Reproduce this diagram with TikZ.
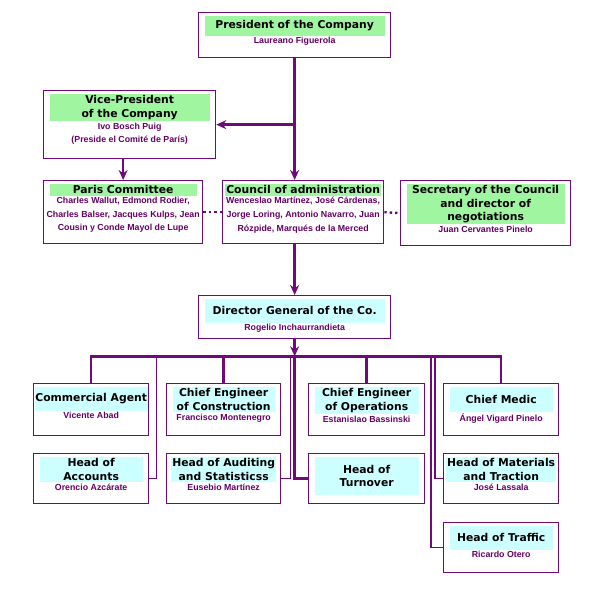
\documentclass[tikz,border=0pt]{standalone}
\usepackage{fontspec}
\usetikzlibrary{arrows.meta,positioning}
\newfontfamily\headfont{DejaVu Sans}
\newfontfamily\namefont{Liberation Sans}

\definecolor{orgline}{RGB}{112,10,120}
\definecolor{orgname}{RGB}{100,0,100}
\definecolor{greenband}{RGB}{160,245,160}
\definecolor{cyanband}{RGB}{204,255,255}

\tikzset{
	unitbox/.style={draw=orgline, line width=1.3pt, anchor=north west, inner sep=0pt},
	band/.style={anchor=north, align=center, inner xsep=0.8pt, inner ysep=1.8pt,
		font=\headfont\bfseries\fontsize{10.8}{13.3}\selectfont},
	who/.style={align=center, inner sep=1pt, text=orgname,
		font=\namefont\bfseries\fontsize{8.8}{13.6}\selectfont},
	link/.style={draw=orgline, line width=2.4pt},
	thinlink/.style={draw=orgline, line width=1.3pt},
	arrow/.style={link, -{Stealth[length=10pt,width=9pt]}}
}

% #1 name, #2 top left corner, #3 width, #4 height, #5 band style, #6 title, #7 names
\newcommand{\orgunit}[7]{%
	\node[unitbox, minimum width=#3, minimum height=#4] (#1) at (#2) {};
	\node[band, minimum width=#3-12, #5] (#1-title) at ([yshift=-3.5pt]#1.north) {#6};
	\node[who, below=0.3pt of #1-title] (#1-names) {#7};
}

\begin{document}
\begin{tikzpicture}[x=1pt, y=-1pt]
	\useasboundingbox (0,0) rectangle (600,595);

	% top of the company
	\orgunit{president}{198,12}{192}{45}{fill=greenband, minimum height=20}
		{President of the Company}{Laureano Figuerola}
	\orgunit{vp}{43,90}{172}{68}{fill=greenband}
		{Vice-President\\of the Company}{Ivo Bosch Puig\\(Preside el Comité de París)}
	\orgunit{paris}{43,180}{159}{63}{fill=greenband}
		{Paris Committee}{Charles Wallut, Edmond Rodier,\\Charles Balser, Jacques Kulps, Jean\\Cousin y Conde Mayol de Lupe}
	\orgunit{council}{222,180}{161}{63}{fill=greenband}
		{Council of administration}{Wenceslao Martínez, José Cárdenas,\\Jorge Loring, Antonio Navarro, Juan\\Rózpide, Marqués de la Merced}
	\orgunit{secretary}{400,180}{170}{65}{fill=greenband}
		{Secretary of the Council\\and director of\\negotiations}{Juan Cervantes Pinelo}
	\orgunit{director}{198,295}{192}{43}{fill=cyanband, minimum height=24}
		{Director General of the Co.}{Rogelio Inchaurrandieta}

	% departments
	\orgunit{agent}{33,383}{115}{52}{fill=cyanband, minimum height=24}
		{Commercial Agent}{Vicente Abad}
	\orgunit{construction}{166,383}{114}{52}{fill=cyanband}
		{Chief Engineer\\of Construction}{Francisco Montenegro}
	\orgunit{operations}{308,383}{116}{52}{fill=cyanband}
		{Chief Engineer\\of Operations}{Estanislao Bassinski}
	\orgunit{medic}{443,383}{115}{52}{fill=cyanband, minimum height=25}
		{Chief Medic}{Ángel Vigard Pinelo}
	\orgunit{accounts}{33,453}{115}{50}{fill=cyanband}
		{Head of\\Accounts}{Orencio Azcárate}
	\orgunit{auditing}{166,453}{114}{50}{fill=cyanband}
		{Head of Auditing\\and Statisticss}{Eusebio Martínez}
	\orgunit{turnover}{308,453}{116}{50}{fill=cyanband, minimum height=38}
		{Head of\\Turnover}{}
	\orgunit{materials}{443,453}{115}{50}{fill=cyanband}
		{Head of Materials\\and Traction}{José Lassala}
	\orgunit{traffic}{443,522}{115}{50}{fill=cyanband, minimum height=24}
		{Head of Traffic}{Ricardo Otero}

	% upper connectors
	\coordinate (vpjoin) at (president.south |- vp.east);
	\draw[arrow] (president.south) -- (president.south |- council.north);
	\draw[arrow] (vpjoin) -- (vp.east);
	\draw[arrow] (vp.south -| paris.north) -- (paris.north);
	\draw[link, dash pattern=on 2.4pt off 3pt] (paris.east) -- (council.west);
	\draw[link, dash pattern=on 2.4pt off 3pt] (council.east) -- (secretary.west);
	\draw[arrow] (president.south |- council.south) -- (director.north);

	% bus to the departments
	\coordinate (bus) at ([yshift=-17pt]director.south);
	\draw[arrow] (director.south) -- (bus);
	\draw[link] (agent.north) -- (agent.north |- bus) -- (medic.north |- bus) -- (medic.north);
	\foreach \u in {construction, operations}
		\draw[link] (\u.north) -- (\u.north |- bus);
	\draw[link] (bus) |- (turnover.west);
	\draw[thinlink] (accounts.east) -| ([xshift=7pt]agent.east |- bus);
	\draw[thinlink] (auditing.east) -| ([xshift=9pt]construction.east |- bus);
	\draw[thinlink] ([xshift=-8pt]materials.west |- bus) |- (materials.west);
	\draw[thinlink] ([xshift=-12pt]traffic.west |- bus) |- (traffic.west);
\end{tikzpicture}
\end{document}
